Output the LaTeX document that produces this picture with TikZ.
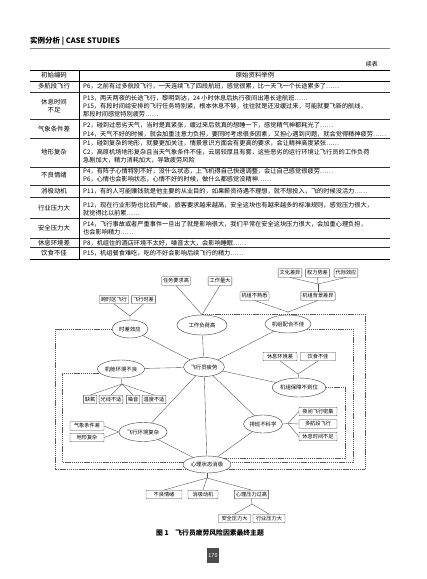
\documentclass[tikz,border=0pt]{standalone}
\usepackage{fontspec}
\newfontfamily\cjk{Noto Sans CJK SC}
\usetikzlibrary{positioning, backgrounds, shapes.geometric}
\tikzset{
	boxnode/.style={draw=black!75, line width=0.4pt, rounded corners=0.6pt, inner xsep=1.5pt, inner ysep=0pt, minimum height=8.5pt, font=\cjk\fontsize{5.2}{6}\selectfont}
}
\tikzset{
	ellnode/.style={ellipse, draw=black!75, line width=0.4pt, fill=white, inner sep=0pt, font=\cjk\fontsize{5.4}{6}\selectfont},
	link/.style={draw=black!70, line width=0.35pt},
	dashlink/.style={draw=black!65, line width=0.5pt, dash pattern=on 1.2pt off 0.7pt}
}
\tikzset{
	tabtext/.style={anchor=west, inner sep=0pt, font=\cjk\fontsize{6.2}{8}\selectfont},
	tablabel/.style={inner sep=0pt, font=\cjk\fontsize{6.4}{8}\selectfont}
}

\begin{document}
\begin{tikzpicture}[x=1pt, y=-1pt]
      \useasboundingbox (0,0) rectangle (427,579);
      \node[anchor=west, inner sep=0pt, font=\cjk\bfseries\fontsize{7.5}{9}\selectfont] (title) at (30,41) {实例分析 | CASE STUDIES};
      \draw[black!50, line width=0.8pt] (30,48) -- (390,48);
      \node[anchor=east, inner sep=0pt, font=\cjk\fontsize{6}{7}\selectfont] (xubiao) at (378,64) {续表};
      \draw[line width=1pt] (30,70) -- (390,70);
      \draw[line width=0.4pt] (30,81) -- (390,81);
      \foreach \y in {92,119,138,167,185,197,218,238,247}
        \draw[line width=0.7pt, black!80] (30,\y) -- (390,\y);
      \draw[line width=1pt] (30,259) -- (390,259);
      \draw[line width=0.6pt] (79,70) -- (79,259);
      \node[tablabel] (headL) at (54,75.5) {初始编码};
      \node[tablabel] (headR) at (255,75.5) {原始资料举例};
      \foreach \y/\l [count=\i] in {86/多航段飞行, 102/休息时间, 110/不足, 129.5/气象条件差, 152/地形复杂, 175.5/不良情绪, 191/消极动机, 208/行业压力大, 228/安全压力大, 243/休息环境差, 253/饮食不佳}
        \node[tablabel] (code\i) at (54,\y) {\l};
      \foreach \y/\l [count=\i] in {86/P6，之前有过多航段飞行，一天连续飞了四段航班，感觉很累，比一天飞一个长途累多了……,
          98/P13，两天两夜的长途飞行，黎明到达，24 小时休息后执行夜间出港长途航班……,
          106/P15，有段时间给安排的飞行任务特别紧，根本休息不够，往往就是还没缓过来，可能就要飞新的航线，,
          114/那段时间感觉特别疲劳……,
          125/P2，碰到过恶劣天气，当时是真紧张，缓过来后就真的想睡一下，感觉精气神都耗光了……,
          134/P14，天气不好的时候，就会加重注意力负担，要同时考虑很多因素，又担心遇到问题，就会觉得精神疲劳……,
          143/P1，碰到复杂的地形，就要更加关注，情景意识方面会有更高的要求，会让精神高度紧张……,
          152/C2，高原机场地形复杂且当天气象条件不佳，云层较厚且有雾，这些恶劣的运行环境让飞行员的工作负荷,
          160/急剧加大，精力消耗加大，导致疲劳风险,
          171/P4，有阵子心情特别不好，没什么状态，上飞机得自己快速调整，会让自己感觉很疲劳……,
          179/P6，心情也会影响状态，心情不好的时候，做什么都感觉没精神……,
          191/P11，有的人可能赚钱就是他主要的从业目的，如果薪资待遇不理想，就不想投入，飞的时候没活力……,
          205/P12，现在行业形势也比较严峻，旅客要求越来越高，安全这块也有越来越多的标准规则，感觉压力很大，,
          213/就觉得比以前累……,
          224/P14，飞行事故或者严重事件一旦出了就是影响很大，我们平常在安全这块压力很大，会加重心理负担，,
          232/也会影响精力……,
          243/P8，机组住的酒店环境不太好，噪音太大，会影响睡眠……,
          253/P15，机组餐食难吃，吃的不好会影响后续飞行的精力……}
        \node[tabtext] (data\i) at (83,\y) {\l};

      \node[boxnode] (wenhua) at (290,273) {文化差异};
      \node[boxnode] (quanli) at (317.5,273) {权力势差};
      \node[boxnode] (daiji) at (346,273) {代际效应};
      \node[boxnode] (beijing) at (318,296) {机组背景差异};
      \node[boxnode] (bushu) at (254.5,296) {机组不熟悉};
      \node[ellnode, minimum width=45pt, minimum height=18pt] (peihe) at (288,324) {机组配合不佳};
      \coordinate (jBeijing) at (318,284);
      \coordinate (jPeihe) at (288,312);
      \node[boxnode] (renwu) at (176,281) {任务要求高};
      \node[boxnode] (gongzuo) at (220,281) {工作量大};
      \node[ellnode, minimum width=50pt, minimum height=20pt] (fuhe) at (202,325) {工作负荷高};
      \node[boxnode] (kuashiqu) at (114,299.5) {跨时区飞行};
      \node[boxnode] (shichabox) at (143.5,299.5) {飞行时差};
      \coordinate (jShicha) at (130,316);
      \node[ellnode, minimum width=36pt, minimum height=18pt] (shicha) at (130,329) {时差效应};
      \node[ellnode, minimum width=41pt, minimum height=19pt] (pilot) at (204,367) {飞行员疲劳};
      \node[ellnode, minimum width=47pt, minimum height=18pt] (jicang) at (121,369) {机舱环境不良};
      \coordinate (jJicang) at (122,384);
      \node[boxnode] (queyang) at (90,399.5) {缺氧};
      \node[boxnode] (guangxian) at (111,399.5) {光线不适};
      \node[boxnode] (zaoyin) at (133,399.5) {噪音};
      \node[boxnode] (wendu) at (154,399.5) {温度不适};
      \node[boxnode, minimum width=34pt] (qixiang) at (87,426) {气象条件差};
      \node[boxnode, minimum width=34pt] (dixing) at (87,437.5) {地形复杂};
      \node[ellnode, minimum width=48pt, minimum height=19pt] (huanjing) at (143,432) {飞行环境复杂};
      \node[ellnode, minimum width=39pt, minimum height=18pt] (paiban) at (263,424) {排班不科学};
      \coordinate (jPaiban) at (288,423.5);
      \node[boxnode, minimum width=38pt] (yejian) at (318,411.5) {夜间飞行密集};
      \node[boxnode, minimum width=38pt] (duohang) at (318,424) {多航段飞行};
      \node[boxnode, minimum width=38pt] (xiuxi) at (318,436.5) {休息时间不足};
      \node[ellnode, minimum width=52pt, minimum height=19pt] (baozhang) at (299,387.5) {机组保障不到位};
      \node[boxnode, minimum width=34pt] (xiuxihj) at (280,356.5) {休息环境差};
      \node[boxnode, minimum width=35pt] (yinshi) at (318,356.5) {饮食不佳};
      \coordinate (jBaozhang) at (298,374);
      \node[ellnode, minimum width=48pt, minimum height=17pt] (xinli) at (207,464.5) {心理状态消极};
      \coordinate (jXinli) at (207,478);
      \node[boxnode, minimum width=36pt] (buliang) at (164,494.5) {不良情绪};
      \node[boxnode, minimum width=30pt] (xiaoji) at (203,494.5) {消极动机};
      \node[boxnode] (yali) at (251.5,494.5) {心理压力过高};
      \coordinate (jYali) at (252,504);
      \node[boxnode, minimum width=32pt] (anquan) at (234.5,518.5) {安全压力大};
      \node[boxnode, minimum width=32pt] (hangye) at (269,518.5) {行业压力大};

      \foreach \n in {wenhua, quanli, daiji}
        \draw[link] (\n.south) -- (jBeijing);
      \draw[link] (jBeijing) -- (beijing.north);
      \draw[link] (bushu.south) -- (jPeihe) -- (peihe.north);
      \draw[link] (beijing.south) -- (jPeihe);
      \draw[link] (renwu.south) -- (fuhe.north);
      \draw[link] (gongzuo.south) -- (fuhe.north);
      \draw[link] (kuashiqu.south) -- (jShicha) -- (shicha.north);
      \draw[link] (shichabox.south) -- (jShicha);
      \foreach \n in {shicha, fuhe, peihe, jicang, baozhang, huanjing, paiban, xinli}
        \draw[link] (pilot) -- (\n);
      \draw[link] (huanjing) -- (xinli);
      \draw[link] (paiban) -- (xinli);
      \draw[link] (jicang.south) -- (jJicang);
      \foreach \n in {queyang, guangxian, zaoyin, wendu}
        \draw[link] (jJicang) -- (\n.north);
      \draw[link] (qixiang.east) -- (huanjing.west);
      \draw[link] (dixing.east) -- (huanjing.west);
      \draw[link] (paiban.east) -- (jPaiban);
      \foreach \n in {yejian, duohang, xiuxi}
        \draw[link] (jPaiban) -- (\n.west);
      \draw[link] (xiuxihj.south) -- (jBaozhang) -- (baozhang.north);
      \draw[link] (yinshi.south) -- (jBaozhang);
      \draw[link] (xinli.south) -- (jXinli);
      \foreach \n in {buliang, xiaoji, yali}
        \draw[link] (jXinli) -- (\n.north);
      \draw[link] (yali.south) -- (jYali);
      \foreach \n in {anquan, hangye}
        \draw[link] (jYali) -- (\n.north);

      \coordinate (dTop) at (365,314);
      \coordinate (dOutR) at (365,469);
      \coordinate (dOutL) at (55,469);
      \coordinate (dMidR) at (353,462);
      \coordinate (dMidL) at (62,462);
      \coordinate (dInR) at (345,458);
      \begin{pgfonlayer}{background}
        \fill[white] (0,0) rectangle (427,579);
        \draw[dashlink] (fuhe.north) |- (dTop) -- (dOutR) -- (xinli |- dOutR);
        \draw[dashlink] (shicha.west) -| (dOutL) -- (xinli |- dOutL);
        \draw[dashlink] (jicang.190) -| (dMidL) -- (xinli |- dMidL);
        \draw[dashlink] (peihe.-15) -| (dMidR) -- (xinli |- dMidR);
        \draw[dashlink] (baozhang.east) -| (dInR) -- (xinli |- dInR);
      \end{pgfonlayer}

      \node[font=\cjk\bfseries\fontsize{6.8}{8}\selectfont, inner sep=0pt] (caption) at (210,533) {图 1\quad 飞行员疲劳风险因素最终主题};
      \node[fill=black!70, text=white, minimum width=12pt, minimum height=15pt, inner sep=0pt, font=\cjk\fontsize{5.5}{6}\selectfont] (pagenum) at (213,555.5) {170};
\end{tikzpicture}
\end{document}
